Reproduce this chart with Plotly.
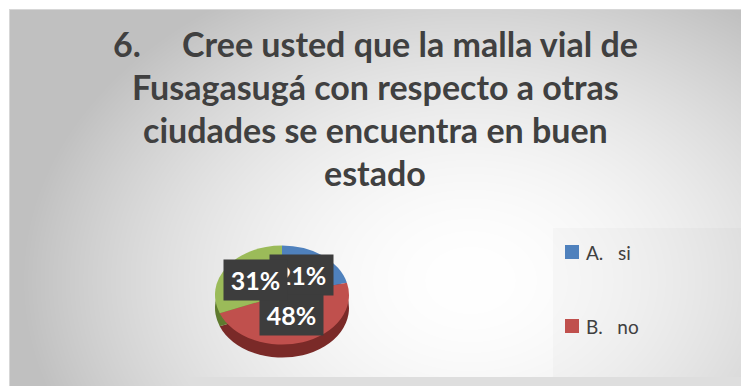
import base64
import math
import zlib
import struct

import numpy as np
import plotly.graph_objects as go

# Survey answers (percent of respondents)
categories = ["A.\u00a0\u00a0\u00a0si", "B.\u00a0\u00a0\u00a0no", "C.\u00a0\u00a0\u00a0no sabe"]
values = [21, 48, 31]
slice_colors = ["#4f81bd", "#c0504d", "#9bbb59"]
side_colors = ["#2f5282", "#7a2a28", "#5f7a2e"]
legend_shown = 2  # only the first two entries fit in the legend column

title_lines = [
    "6.\u00a0\u00a0\u00a0\u00a0\u00a0Cree usted que la malla vial de",
    "Fusagasugá con respecto a otras",
    "ciudades se encuentra en buen",
    "estado",
]

W, H = 741, 386


def png_data_uri(rgb):
    h, w, _ = rgb.shape
    raw = b"".join(b"\x00" + rgb[r].tobytes() for r in range(h))

    def chunk(tag, data):
        c = struct.pack(">I", len(data)) + tag + data
        return c + struct.pack(">I", zlib.crc32(tag + data) & 0xFFFFFFFF)

    png = b"\x89PNG\r\n\x1a\n"
    png += chunk(b"IHDR", struct.pack(">IIBBBBB", w, h, 8, 2, 0, 0, 0))
    png += chunk(b"IDAT", zlib.compress(raw, 9))
    png += chunk(b"IEND", b"")
    return "data:image/png;base64," + base64.b64encode(png).decode()


# Radial grey gradient panel with a white page margin
yy, xx = np.mgrid[0:H, 0:W].astype(float)
d = np.sqrt(((xx - 470) / 430) ** 2 + ((yy - 280) / 320) ** 2)
shade = 255 - 58 * np.clip(d, 0, 1.35) ** 1.8
shade = np.clip(shade, 192, 255)
bg = np.repeat(shade[:, :, None], 3, axis=2)
bg[377:, 9:, :] = np.minimum(bg[377:, 9:, :], 222)
bg[:9, :, :] = 255
bg[:, :9, :] = 255
bg[9, 9:, :] = 215
bg[9:, 9, :] = 215
bg = bg.astype(np.uint8)

# Pie geometry in pixels (top face of a tilted disc)
cx, cy, R = 282, 295, 67
tilt = 0.74
depth = 13


def px_x(x):
    return x / W


def px_y(y):
    return 1 - y / H


fig = go.Figure()

# darker copy shifted down gives the disc its thickness
shift = depth / tilt
fig.add_trace(go.Pie(
    labels=categories, values=values, sort=False, direction="clockwise",
    rotation=0, textinfo="none", hoverinfo="skip", showlegend=False,
    marker=dict(colors=side_colors, line=dict(width=0)),
    domain=dict(x=[px_x(cx - R), px_x(cx + R)],
                y=[px_y(cy + shift + R), px_y(cy + shift - R)]),
))
fig.add_trace(go.Pie(
    labels=categories, values=values, sort=False, direction="clockwise",
    rotation=0, textinfo="none", showlegend=False,
    marker=dict(colors=slice_colors, line=dict(width=0)),
    domain=dict(x=[px_x(cx - R), px_x(cx + R)],
                y=[px_y(cy + R), px_y(cy - R)]),
))

annotations = []
# percentage tags placed at each slice's mid-angle
total = sum(values)
cum = 0
for v in values:
    mid = (cum + v / 2) / total * 2 * math.pi
    cum += v
    lx = cx + 0.48 * R * math.sin(mid)
    ly = cy - 0.5 * R * 0.69 * math.cos(mid) - 2
    annotations.append(dict(
        x=px_x(lx), y=px_y(ly), xref="paper", yref="paper",
        text=f"<b>{v}%</b>", showarrow=False, xanchor="center", yanchor="middle",
        width=63, height=40, bgcolor="#3d3d3d", borderpad=0,
        font=dict(family="Lato", size=25, color="#ffffff"),
    ))

# title, one annotation per line
for i, line in enumerate(title_lines):
    annotations.append(dict(
        x=px_x(375), y=px_y(44 + i * 42.7), xref="paper", yref="paper",
        text=f"<b>{line}</b>", showarrow=False, xanchor="center", yanchor="middle",
        font=dict(family="Lato", size=34, color="#404040"),
    ))

# legend column with its faint backing panel
shapes = [dict(
    type="rect", xref="paper", yref="paper", layer="below",
    x0=px_x(553), x1=1, y0=px_y(377), y1=px_y(228),
    fillcolor="rgba(0,0,0,0.018)", line=dict(width=0),
)]
for i in range(legend_shown):
    ty = 252 + i * 74
    shapes.append(dict(
        type="rect", xref="paper", yref="paper",
        x0=px_x(565), x1=px_x(579), y0=px_y(ty + 7), y1=px_y(ty - 7),
        fillcolor=slice_colors[i], line=dict(width=0),
    ))
    annotations.append(dict(
        x=px_x(584), y=px_y(ty), xref="paper", yref="paper",
        text=categories[i], showarrow=False, xanchor="left", yanchor="middle",
        font=dict(family="Lato", size=19, color="#404040"),
    ))

fig.update_layout(
    width=W, height=H,
    margin=dict(l=0, r=0, t=0, b=0),
    paper_bgcolor="#ffffff",
    plot_bgcolor="rgba(0,0,0,0)",
    showlegend=False,
    annotations=annotations,
    shapes=shapes,
    images=[dict(
        source=png_data_uri(bg), xref="paper", yref="paper",
        x=0, y=1, sizex=1, sizey=1, xanchor="left", yanchor="top",
        sizing="stretch", layer="below",
    )],
)

# squash the pie layer vertically around the disc centre
tilt_js = (
    "var gd = document.getElementById('{plot_id}');"
    "function tiltPie(){var g = gd.querySelector('.pielayer');"
    "if(g){g.setAttribute('transform','translate(0," + str(cy) + ") scale(1,"
    + str(tilt) + ") translate(0," + str(-cy) + ")');}}"
    "tiltPie(); gd.on('plotly_afterplot', tiltPie);"
)

fig.write_html("out.html", post_script=tilt_js)
